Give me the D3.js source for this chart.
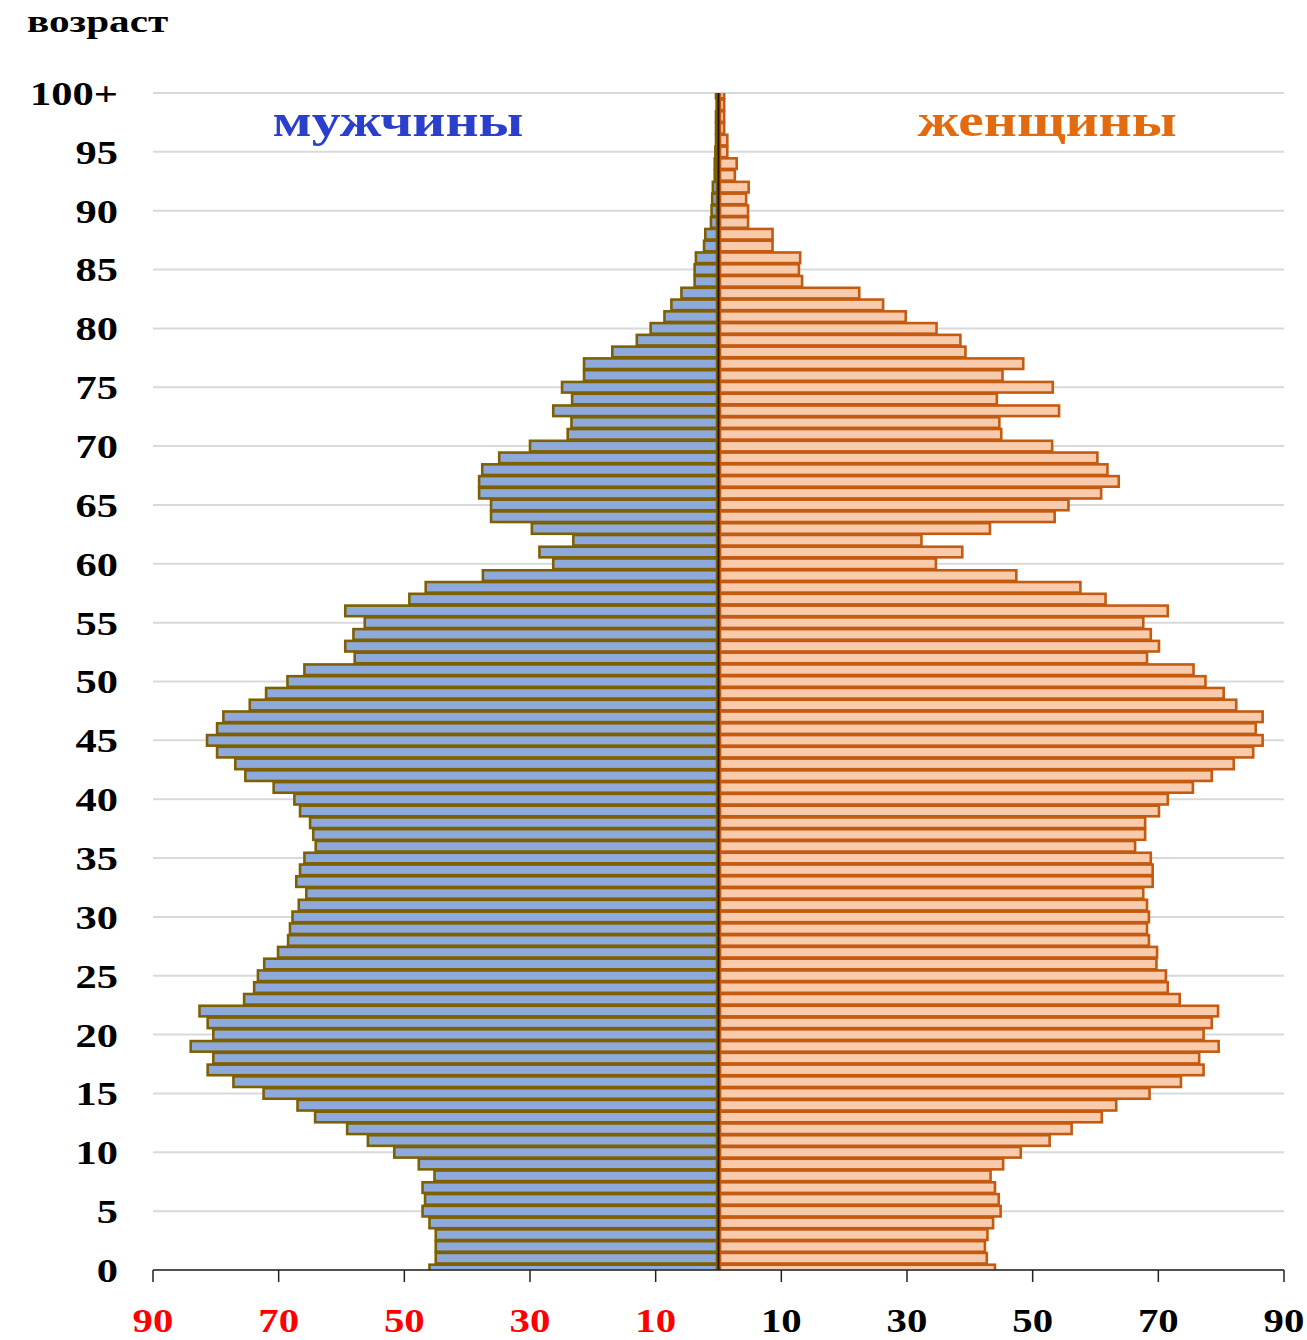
<!DOCTYPE html>
<html>
<head>
<meta charset="utf-8">
<script src="https://cdnjs.cloudflare.com/ajax/libs/d3/7.8.5/d3.min.js"></script>
<style>
  body { margin: 0; background: white; }
  svg text { font-family: "Liberation Serif", "Times New Roman", serif; font-weight: bold; }
</style>
</head>
<body>
<svg id="chart" width="1307" height="1340"></svg>
<script>

// ages 0..100 (100 = 100+)
var ages = d3.range(0, 101);

// men, thousands, age 0 -> 100+
var men = [
  46.0, 45.0, 45.0, 45.0, 46.0, 47.1, 46.7, 47.1, 45.2, 47.7,
  51.6, 55.8, 59.1, 64.2, 67.0, 72.4, 77.2, 81.3, 80.4, 84.0,
  80.4, 81.3, 82.6, 75.5, 73.9, 73.3, 72.3, 70.1, 68.5, 68.2,
  67.8, 66.8, 65.6, 67.2, 66.6, 65.9, 64.1, 64.5, 65.0, 66.6,
  67.5, 70.8, 75.3, 76.9, 79.8, 81.4, 79.8, 78.8, 74.6, 72.0,
  68.6, 65.9, 57.9, 59.4, 58.1, 56.3, 59.4, 49.2, 46.6, 37.5,
  26.3, 28.5, 23.1, 29.7, 36.2, 36.2, 38.1, 38.1, 37.6, 34.9,
  30.0, 24.0, 23.4, 26.3, 23.3, 24.9, 21.4, 21.4, 16.9, 13.0,
  10.8, 8.6, 7.5, 5.9, 3.8, 3.8, 3.6, 2.3, 2.1, 1.2,
  1.1, 1.0, 0.9, 0.6, 0.6, 0.5, 0.4, 0.4, 0.4, 0.3,
  0.4
];

// women, thousands, age 0 -> 100+
var women = [
  44.0, 42.7, 42.4, 42.8, 43.7, 44.9, 44.6, 44.0, 43.3, 45.3,
  48.1, 52.7, 56.2, 61.0, 63.3, 68.6, 73.6, 77.2, 76.5, 79.6,
  77.2, 78.5, 79.5, 73.4, 71.5, 71.2, 69.7, 69.8, 68.5, 68.2,
  68.5, 68.2, 67.6, 69.1, 69.1, 68.8, 66.3, 67.9, 67.9, 70.1,
  71.5, 75.5, 78.5, 82.0, 85.1, 86.6, 85.5, 86.6, 82.4, 80.4,
  77.5, 75.6, 68.2, 70.1, 68.8, 67.6, 71.5, 61.6, 57.6, 47.4,
  34.6, 38.8, 32.3, 43.2, 53.5, 55.7, 60.9, 63.7, 61.9, 60.3,
  53.1, 45.0, 44.7, 54.2, 44.3, 53.2, 45.2, 48.5, 39.3, 38.5,
  34.7, 29.8, 26.2, 22.4, 13.3, 12.8, 13.0, 8.6, 8.6, 4.7,
  4.7, 4.4, 4.8, 2.6, 2.9, 1.4, 1.4, 0.9, 0.9, 0.9,
  0.9
];

var x_ticks = [10, 30, 50, 70, 90];
var age_ticks = d3.range(0, 101, 5);

var svg = d3.select('#chart');

var plot = {left: 153, right: 1284, top: 93, bottom: 1270};
var center = (plot.left + plot.right) / 2;
var stretch = 1.25; // text in the picture is wider than the font

var x_men = d3.scaleLinear().domain([0, 90]).range([center, plot.left]);
var x_women = d3.scaleLinear().domain([0, 90]).range([center, plot.right]);
var y = d3.scaleLinear().domain([0, 100]).range([plot.bottom, plot.top]);
var step = y(0) - y(1);
var bar_h = step * 0.9;

function place(x, yy, sx){
  return 'translate(' + x + ',' + yy + ') scale(' + (sx || stretch) + ',1)';
}

svg.append('defs')
  .append('clipPath')
  .attr('id', 'plot_clip')
  .append('rect')
  .attr('x', 0)
  .attr('y', plot.top)
  .attr('width', 1307)
  .attr('height', plot.bottom - plot.top);

// grid lines
svg.append('g')
  .selectAll('line')
  .data(age_ticks)
  .enter()
  .append('line')
  .attr('x1', plot.left)
  .attr('x2', plot.right)
  .attr('y1', function(d){ return y(d); })
  .attr('y2', function(d){ return y(d); })
  .style('stroke', '#d9d9d9')
  .style('stroke-width', 2);

var bars = svg.append('g').attr('clip-path', 'url(#plot_clip)');

bars.selectAll('.men_bar')
  .data(ages)
  .enter()
  .append('rect')
  .classed('men_bar', true)
  .attr('x', function(d){ return x_men(men[d]); })
  .attr('width', function(d){ return x_men(0) - x_men(men[d]) - 1.5; })
  .attr('y', function(d){ return y(d) - bar_h / 2; })
  .attr('height', bar_h)
  .style('fill', '#8eaadc')
  .style('stroke', '#7f6000')
  .style('stroke-width', 2.6);

bars.selectAll('.women_bar')
  .data(ages)
  .enter()
  .append('rect')
  .classed('women_bar', true)
  .attr('x', x_women(0) + 1.5)
  .attr('width', function(d){ return x_women(women[d]) - x_women(0) - 1.5; })
  .attr('y', function(d){ return y(d) - bar_h / 2; })
  .attr('height', bar_h)
  .style('fill', '#f8cbad')
  .style('stroke', '#c55a11')
  .style('stroke-width', 2.6);

// center line
svg.append('line')
  .attr('x1', center)
  .attr('x2', center)
  .attr('y1', plot.top)
  .attr('y2', plot.bottom)
  .style('stroke', '#2a1200')
  .style('stroke-width', 2);

// x axis
var x_axis = svg.append('g');

x_axis.append('line')
  .attr('x1', plot.left)
  .attr('x2', plot.right)
  .attr('y1', plot.bottom)
  .attr('y2', plot.bottom)
  .style('stroke', '#222')
  .style('stroke-width', 1.5);

var x_tick_data = x_ticks.map(function(d){ return {v: d, side: 'men', px: x_men(d)}; })
  .concat(x_ticks.map(function(d){ return {v: d, side: 'women', px: x_women(d)}; }));

x_axis.selectAll('.x_tick')
  .data(x_tick_data)
  .enter()
  .append('line')
  .attr('x1', function(d){ return d.px; })
  .attr('x2', function(d){ return d.px; })
  .attr('y1', plot.bottom)
  .attr('y2', plot.bottom + 12)
  .style('stroke', '#222')
  .style('stroke-width', 1.5);

x_axis.selectAll('.x_label')
  .data(x_tick_data)
  .enter()
  .append('text')
  .attr('transform', function(d){ return place(d.px, 1332, 1.2); })
  .attr('text-anchor', 'middle')
  .style('font-size', '34px')
  .style('fill', function(d){ return d.side === 'men' ? '#ff0000' : '#000'; })
  .text(function(d){ return d.v; });

// y labels
svg.selectAll('.y_label')
  .data(age_ticks)
  .enter()
  .append('text')
  .attr('transform', function(d){ return place(118, y(d)); })
  .attr('dy', '0.35em')
  .attr('text-anchor', 'end')
  .style('font-size', '34px')
  .style('fill', '#000')
  .text(function(d){ return d === 100 ? '100+' : d; });

svg.append('text')
  .attr('transform', place(27, 32, 1.33))
  .style('font-size', '31px')
  .style('fill', '#000')
  .text('возраст');

svg.append('text')
  .attr('transform', place(398, 136))
  .attr('text-anchor', 'middle')
  .style('font-size', '46px')
  .style('fill', '#2a3fcc')
  .text('мужчины');

svg.append('text')
  .attr('transform', place(1047, 136))
  .attr('text-anchor', 'middle')
  .style('font-size', '46px')
  .style('fill', '#e26b10')
  .text('женщины');

</script>
</body>
</html>
